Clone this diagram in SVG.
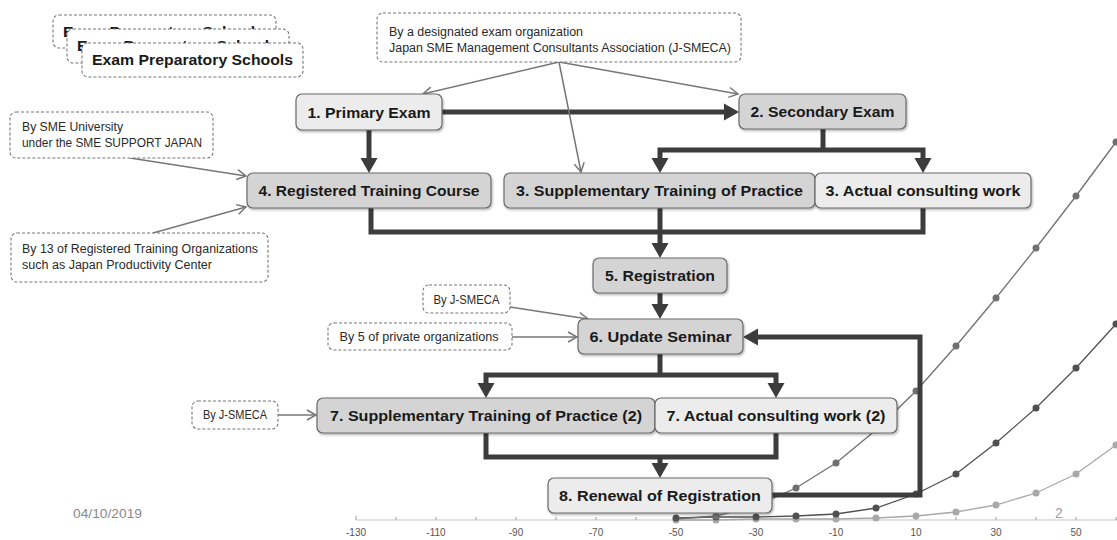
<svg xmlns="http://www.w3.org/2000/svg" width="1117" height="540" viewBox="0 0 1117 540">
  <style>
    .box{stroke:#6a6a6a;stroke-width:1.2;filter:url(#sh)}
    .dark{fill:#d4d4d4}
    .light{fill:#ececec}
    .lbl{font-family:"Liberation Sans",Arial,sans-serif;font-weight:bold;font-size:15.5px;fill:#1a1a1a;text-anchor:middle}
    .note{fill:#fff;stroke:#777;stroke-width:1.1;stroke-dasharray:3 2}
    .ntxt{font-family:"Liberation Sans",Arial,sans-serif;font-size:12px;fill:#2a2a2a}
    .thick{fill:none;stroke:#3c3c3c;stroke-width:5;stroke-linejoin:miter}
    .thin{fill:none;stroke:#777;stroke-width:1.5}
    .axis{stroke:#c4c4c4;stroke-width:1}
    .tick{stroke:#999;stroke-width:1}
    .tl{font-family:"Liberation Sans",Arial,sans-serif;font-size:10px;fill:#555;text-anchor:middle}
  </style>
  <defs>
    <filter id="sh" x="-5%" y="-20%" width="110%" height="150%">
      <feDropShadow dx="1" dy="1.5" stdDeviation="1" flood-color="#000" flood-opacity="0.3"/>
    </filter>
    <marker id="ah" markerUnits="userSpaceOnUse" viewBox="0 -9 15 18" markerWidth="15" markerHeight="18" refX="0" refY="0" orient="auto-start-reverse">
      <path d="M0,-8.5 L15,0 L0,8.5 z" fill="#3c3c3c"/>
    </marker>
    <marker id="oa" markerUnits="userSpaceOnUse" viewBox="-10 -6 12 12" markerWidth="12" markerHeight="12" refX="0" refY="0" orient="auto">
      <path d="M-9,-5 L0,0 L-9,5" fill="none" stroke="#777" stroke-width="1.5"/>
    </marker>
  </defs>

  <rect width="1117" height="540" fill="#fff"/>

  <!-- background line chart -->
  <g id="chart">
    <line class="axis" x1="356" y1="520" x2="1117" y2="520"/>
    <path class="tick" d="M356,516V520M396,517V520M436,517V520M476,517V520M516,517V520M556,517V520M596,517V520M636,517V520M676,517V520M716,517V520M756,517V520M796,517V520M836,517V520M876,517V520M916,517V520M956,517V520M996,517V520M1036,517V520M1076,517V520M1116,517V520"/>
    <g>
      <text class="tl" x="356" y="536">-130</text>
      <text class="tl" x="436" y="536">-110</text>
      <text class="tl" x="516" y="536">-90</text>
      <text class="tl" x="596" y="536">-70</text>
      <text class="tl" x="676" y="536">-50</text>
      <text class="tl" x="756" y="536">-30</text>
      <text class="tl" x="836" y="536">-10</text>
      <text class="tl" x="916" y="536">10</text>
      <text class="tl" x="996" y="536">30</text>
      <text class="tl" x="1076" y="536">50</text>
    </g>
    <g fill="none" stroke-width="1.3">
      <polyline stroke="#a8a8a8" points="676,520 716,520 756,519 796,519 836,519 876,518 916,516 956,512 996,505 1036,493 1076,474 1116,445 1156,405"/>
      <polyline stroke="#505050" points="676,518 716,517 756,517 796,516 836,514 876,508 916,494 956,474 996,443 1036,408 1076,368 1116,324 1156,278"/>
      <polyline stroke="#707070" points="676,519 716,516 756,506 796,488 836,463 876,430 916,391 956,346 996,298 1036,248 1076,196 1116,142 1156,86"/>
    </g>
    <g fill="#a8a8a8">
      <circle cx="676" cy="520" r="3.5"/><circle cx="716" cy="520" r="3.5"/><circle cx="756" cy="519" r="3.5"/><circle cx="796" cy="519" r="3.5"/><circle cx="836" cy="519" r="3.5"/><circle cx="876" cy="518" r="3.5"/><circle cx="916" cy="516" r="3.5"/><circle cx="956" cy="512" r="3.5"/><circle cx="996" cy="505" r="3.5"/><circle cx="1036" cy="493" r="3.5"/><circle cx="1076" cy="474" r="3.5"/><circle cx="1116" cy="445" r="3.5"/>
    </g>
    <g fill="#505050">
      <circle cx="676" cy="518" r="3.5"/><circle cx="716" cy="517" r="3.5"/><circle cx="756" cy="517" r="3.5"/><circle cx="796" cy="516" r="3.5"/><circle cx="836" cy="514" r="3.5"/><circle cx="876" cy="508" r="3.5"/><circle cx="916" cy="494" r="3.5"/><circle cx="956" cy="474" r="3.5"/><circle cx="996" cy="443" r="3.5"/><circle cx="1036" cy="408" r="3.5"/><circle cx="1076" cy="368" r="3.5"/><circle cx="1116" cy="324" r="3.5"/>
    </g>
    <g fill="#707070">
      <circle cx="716" cy="516" r="3.5"/><circle cx="756" cy="506" r="3.5"/><circle cx="796" cy="488" r="3.5"/><circle cx="836" cy="463" r="3.5"/><circle cx="876" cy="430" r="3.5"/><circle cx="916" cy="391" r="3.5"/><circle cx="956" cy="346" r="3.5"/><circle cx="996" cy="298" r="3.5"/><circle cx="1036" cy="248" r="3.5"/><circle cx="1076" cy="196" r="3.5"/><circle cx="1116" cy="142" r="3.5"/>
    </g>
    <text x="73" y="518" font-family="Liberation Sans, Arial, sans-serif" font-size="13.5" fill="#8a8a8a" textLength="69" lengthAdjust="spacingAndGlyphs">04/10/2019</text>
    <text x="1059" y="518" font-family="Liberation Sans, Arial, sans-serif" font-size="14" fill="#a0a0a0" text-anchor="middle">2</text>
  </g>

  <!-- connectors -->
  <g id="connectors">
    <path class="thick" d="M442,112 H724" marker-end="url(#ah)"/>
    <path class="thick" d="M369,130 V158" marker-end="url(#ah)"/>
    <path class="thick" d="M823,129 V150"/>
    <path class="thick" d="M660,158 V150 H923 V158" marker-start="url(#ah)" marker-end="url(#ah)"/>
    <path class="thick" d="M371,208 V232 H923 V208"/>
    <path class="thick" d="M660,208 V243" marker-end="url(#ah)"/>
    <path class="thick" d="M660,293 V304" marker-end="url(#ah)"/>
    <path class="thick" d="M660,354 V375"/>
    <path class="thick" d="M486,383 V375 H776 V383" marker-start="url(#ah)" marker-end="url(#ah)"/>
    <path class="thick" d="M486,433 V457 H776 V433"/>
    <path class="thick" d="M660,457 V463" marker-end="url(#ah)"/>
    <path class="thick" d="M772,495 H920 V337 H758" marker-end="url(#ah)"/>

    <path class="thin" d="M559,62 L423,94" marker-end="url(#oa)"/>
    <path class="thin" d="M559,62 L738,94" marker-end="url(#oa)"/>
    <path class="thin" d="M559,62 L581,172" marker-end="url(#oa)"/>
    <path class="thin" d="M130,158 L246,176" marker-end="url(#oa)"/>
    <path class="thin" d="M153,233 L246,207" marker-end="url(#oa)"/>
    <path class="thin" d="M510,307 L588,319" marker-end="url(#oa)"/>
    <path class="thin" d="M512,337 L577,337" marker-end="url(#oa)"/>
    <path class="thin" d="M278,415 L316,415" marker-end="url(#oa)"/>
  </g>

  <!-- exam preparatory schools (stacked) -->
  <g id="prep-schools">
    <rect class="note" x="53" y="15" width="223" height="33" rx="6"/>
    <text class="lbl" x="63" y="37" style="text-anchor:start" textLength="201" lengthAdjust="spacingAndGlyphs">Exam Preparatory Schools</text>
    <rect class="note" x="67" y="29" width="222" height="34" rx="6"/>
    <text class="lbl" x="77" y="51" style="text-anchor:start" textLength="201" lengthAdjust="spacingAndGlyphs">Exam Preparatory Schools</text>
    <rect class="note" x="82" y="43" width="221" height="34" rx="6"/>
    <text class="lbl" x="92" y="65" style="text-anchor:start" textLength="201" lengthAdjust="spacingAndGlyphs">Exam Preparatory Schools</text>
  </g>

  <g id="note-exam-org">
    <rect class="note" x="377" y="13" width="364" height="49" rx="6"/>
    <text class="ntxt" x="389" y="35.5" textLength="194" lengthAdjust="spacingAndGlyphs">By a designated exam organization</text>
    <text class="ntxt" x="389" y="51.5" textLength="342" lengthAdjust="spacingAndGlyphs">Japan SME Management Consultants Association (J-SMECA)</text>
  </g>

  <g id="note-sme-univ">
    <rect class="note" x="10" y="112" width="203" height="46" rx="6"/>
    <text class="ntxt" x="22" y="131" textLength="101" lengthAdjust="spacingAndGlyphs">By SME University</text>
    <text class="ntxt" x="22" y="147" textLength="180" lengthAdjust="spacingAndGlyphs">under the SME SUPPORT JAPAN</text>
  </g>

  <g id="note-training-orgs">
    <rect class="note" x="11" y="233" width="257" height="49" rx="6"/>
    <text class="ntxt" x="22" y="253" textLength="236" lengthAdjust="spacingAndGlyphs">By 13 of Registered Training Organizations</text>
    <text class="ntxt" x="22" y="269" textLength="190" lengthAdjust="spacingAndGlyphs">such as Japan Productivity Center</text>
  </g>

  <g id="note-jsmeca-1">
    <rect class="note" x="423" y="285" width="87" height="28" rx="6"/>
    <text class="ntxt" x="466.5" y="304" text-anchor="middle" textLength="66" lengthAdjust="spacingAndGlyphs">By J-SMECA</text>
  </g>

  <g id="note-private">
    <rect class="note" x="328" y="323" width="184" height="27" rx="6"/>
    <text class="ntxt" x="419" y="341" text-anchor="middle" textLength="159" lengthAdjust="spacingAndGlyphs">By 5 of private organizations</text>
  </g>

  <g id="note-jsmeca-2">
    <rect class="note" x="192" y="401" width="86" height="28" rx="6"/>
    <text class="ntxt" x="235" y="419" text-anchor="middle" textLength="64" lengthAdjust="spacingAndGlyphs">By J-SMECA</text>
  </g>

  <!-- process steps -->
  <g id="step1">
    <rect class="box light" x="296" y="94" width="146" height="36" rx="6"/>
    <text class="lbl" x="369" y="117.5" textLength="123" lengthAdjust="spacingAndGlyphs">1. Primary Exam</text>
  </g>
  <g id="step2">
    <rect class="box dark" x="739" y="94" width="167" height="35" rx="6"/>
    <text class="lbl" x="822.5" y="117" textLength="144" lengthAdjust="spacingAndGlyphs">2. Secondary Exam</text>
  </g>
  <g id="step4">
    <rect class="box dark" x="247" y="173" width="244" height="35" rx="6"/>
    <text class="lbl" x="369" y="196" textLength="221" lengthAdjust="spacingAndGlyphs">4. Registered Training Course</text>
  </g>
  <g id="step3-training">
    <rect class="box dark" x="504" y="173" width="311" height="35" rx="6"/>
    <text class="lbl" x="659.5" y="196" textLength="287" lengthAdjust="spacingAndGlyphs">3. Supplementary Training of Practice</text>
  </g>
  <g id="step3-consulting">
    <rect class="box light" x="815" y="173" width="216" height="35" rx="6"/>
    <text class="lbl" x="923" y="196" textLength="195" lengthAdjust="spacingAndGlyphs">3. Actual consulting work</text>
  </g>
  <g id="step5">
    <rect class="box dark" x="593" y="258" width="134" height="35" rx="6"/>
    <text class="lbl" x="660" y="281" textLength="110" lengthAdjust="spacingAndGlyphs">5. Registration</text>
  </g>
  <g id="step6">
    <rect class="box dark" x="578" y="319" width="165" height="35" rx="6"/>
    <text class="lbl" x="660.5" y="342" textLength="142" lengthAdjust="spacingAndGlyphs">6. Update Seminar</text>
  </g>
  <g id="step7-training">
    <rect class="box dark" x="317" y="398" width="338" height="35" rx="6"/>
    <text class="lbl" x="486" y="421" textLength="312" lengthAdjust="spacingAndGlyphs">7. Supplementary Training of Practice (2)</text>
  </g>
  <g id="step7-consulting">
    <rect class="box light" x="655" y="398" width="242" height="35" rx="6"/>
    <text class="lbl" x="776" y="421" textLength="219" lengthAdjust="spacingAndGlyphs">7. Actual consulting work (2)</text>
  </g>
  <g id="step8">
    <rect class="box light" x="548" y="478" width="224" height="35" rx="6"/>
    <text class="lbl" x="660" y="501" textLength="202" lengthAdjust="spacingAndGlyphs">8. Renewal of Registration</text>
  </g>
</svg>
